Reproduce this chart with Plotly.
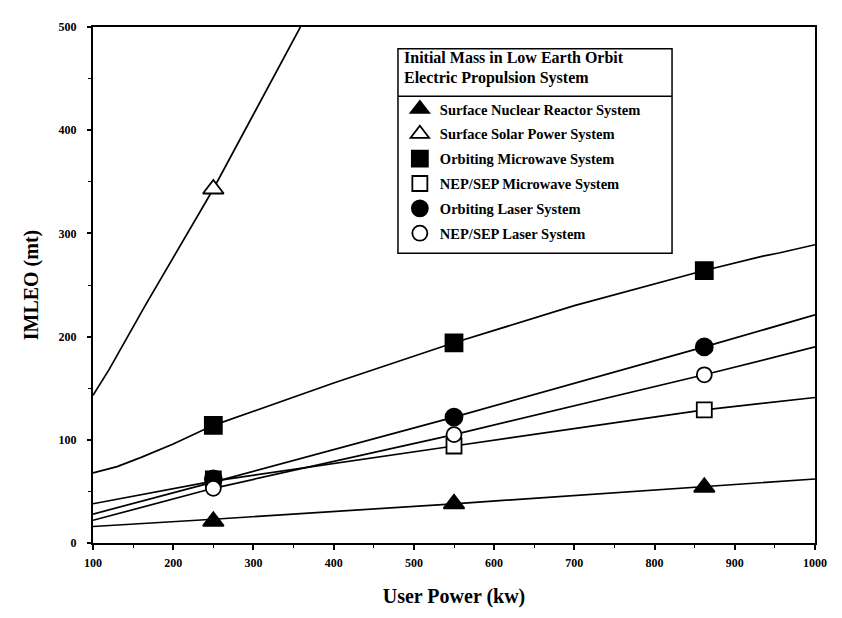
import plotly.graph_objects as go

# ---- data ----
# curve points (x = user power kW, y = IMLEO mt)
nuc_x = [100, 250, 550, 862, 1000]
nuc_y = [16, 23, 38, 55, 62]
solar_x = [100, 120, 165, 250, 362]
solar_y = [143, 168, 230, 343, 505]
omw_x = [100, 130, 160, 200, 250, 400, 550, 700, 862, 935, 955, 1000]
omw_y = [68, 74, 83, 96, 114, 155, 194, 230, 264, 278, 281, 289]
nmw_x = [100, 250, 550, 862, 1000]
nmw_y = [38, 60, 94, 129, 141]
olas_x = [100, 250, 550, 862, 1000]
olas_y = [28, 59, 122, 190, 221]
nlas_x = [100, 250, 550, 862, 1000]
nlas_y = [22, 53, 105, 163, 190]

# marked design points
nuc_mx, nuc_my = [250, 550, 862], [21, 38, 54]
solar_mx, solar_my = [250], [343]
omw_mx, omw_my = [250, 550, 862], [114, 194, 264]
nmw_mx, nmw_my = [250, 550, 862], [62, 94, 129]
olas_mx, olas_my = [250, 550, 862], [62, 122, 190]
nlas_mx, nlas_my = [250, 550, 862], [53, 105, 163]

names = ["Surface Nuclear Reactor System", "Surface Solar Power System",
         "Orbiting Microwave System", "NEP/SEP Microwave System",
         "Orbiting Laser System", "NEP/SEP Laser System"]
legend_title = ["Initial Mass in Low Earth Orbit", "Electric Propulsion System"]
x_ticks = [100, 200, 300, 400, 500, 600, 700, 800, 900, 1000]
y_ticks = [0, 100, 200, 300, 400, 500]

FONT = "Liberation Serif"
fig = go.Figure()

curves = [(nuc_x, nuc_y), (solar_x, solar_y), (omw_x, omw_y),
          (nmw_x, nmw_y), (olas_x, olas_y), (nlas_x, nlas_y)]
for cx, cy in curves:
    fig.add_trace(go.Scatter(x=cx, y=cy, mode="lines", showlegend=False,
                             line=dict(color="black", width=1.7), hoverinfo="skip"))

markers = [
    (nuc_mx, nuc_my, "triangle-up", "black", 18),
    (solar_mx, solar_my, "triangle-up", "white", 18),
    (omw_mx, omw_my, "square", "black", 17),
    (nmw_mx, nmw_my, "square", "white", 15),
    (olas_mx, olas_my, "circle", "black", 17),
    (nlas_mx, nlas_my, "circle", "white", 15),
]
for i, (mx, my, sym, fill, sz) in enumerate(markers):
    fig.add_trace(go.Scatter(
        x=mx, y=my, mode="markers", name=f"<b>{names[i]}</b>", legendgroup=f"g{i}",
        marker=dict(symbol=sym, color=fill, size=sz,
                    line=dict(color="black", width=1.8)),
        cliponaxis=True))

tickfont = dict(family=FONT, size=12, color="black")
fig.update_layout(
    width=842, height=618,
    # page body has an 8px margin, so compensate here
    margin=dict(l=85, r=35, t=13, b=83),
    paper_bgcolor="white", plot_bgcolor="white",
    font=dict(family=FONT, color="black"),
    showlegend=True,
    legend=dict(
        x=0.425, y=0.872, xanchor="left", yanchor="top",
        bgcolor="rgba(0,0,0,0)", borderwidth=0,
        font=dict(family=FONT, size=14.5, color="black"),
        tracegroupgap=3, itemsizing="trace",
    ),
    xaxis=dict(range=[100, 1000], tickvals=x_ticks,
               ticktext=[f"<b>{v}</b>" for v in x_ticks],
               ticks="outside", ticklen=5, tickwidth=1.5, tickcolor="black",
               ticklabelstandoff=3,
               minor=dict(dtick=50, ticks="outside", ticklen=3, tickcolor="black", tickwidth=1.2),
               showline=True, linecolor="black", linewidth=2, mirror=True,
               showgrid=False, zeroline=False, tickfont=tickfont,
               title=dict(text="<b>User Power (kw)</b>", standoff=20,
                          font=dict(family=FONT, size=20, color="black"))),
    yaxis=dict(range=[0, 500], tickvals=y_ticks,
               ticktext=[f"<b>{v}</b>" for v in y_ticks],
               ticks="outside", ticklen=4, tickwidth=1.5, tickcolor="black",
               ticklabelstandoff=8,
               minor=dict(dtick=50, ticks="outside", ticklen=3, tickcolor="black", tickwidth=1.2),
               showline=True, linecolor="black", linewidth=2, mirror=True,
               showgrid=False, zeroline=False, tickfont=tickfont,
               title=dict(text="<b>IMLEO (mt)</b>", standoff=15,
                          font=dict(family=FONT, size=20, color="black"))),
)
# legend frame, header text and header separator
fig.add_shape(type="rect", xref="paper", yref="paper",
              x0=0.4224, x1=0.802, y0=0.5613, y1=0.9579,
              line=dict(color="black", width=1.5), fillcolor="white", layer="below")
fig.add_shape(type="line", xref="paper", yref="paper",
              x0=0.4224, x1=0.802, y0=0.866, y1=0.866,
              line=dict(color="black", width=1.5))
for line_text, ypos in zip(legend_title, [0.9406, 0.9004]):
    fig.add_annotation(xref="paper", yref="paper", x=0.428, y=ypos,
                       xanchor="left", yanchor="middle", align="left", showarrow=False,
                       text=f"<b>{line_text}</b>",
                       font=dict(family=FONT, size=16, color="black"))

fig.write_html("out.html")
